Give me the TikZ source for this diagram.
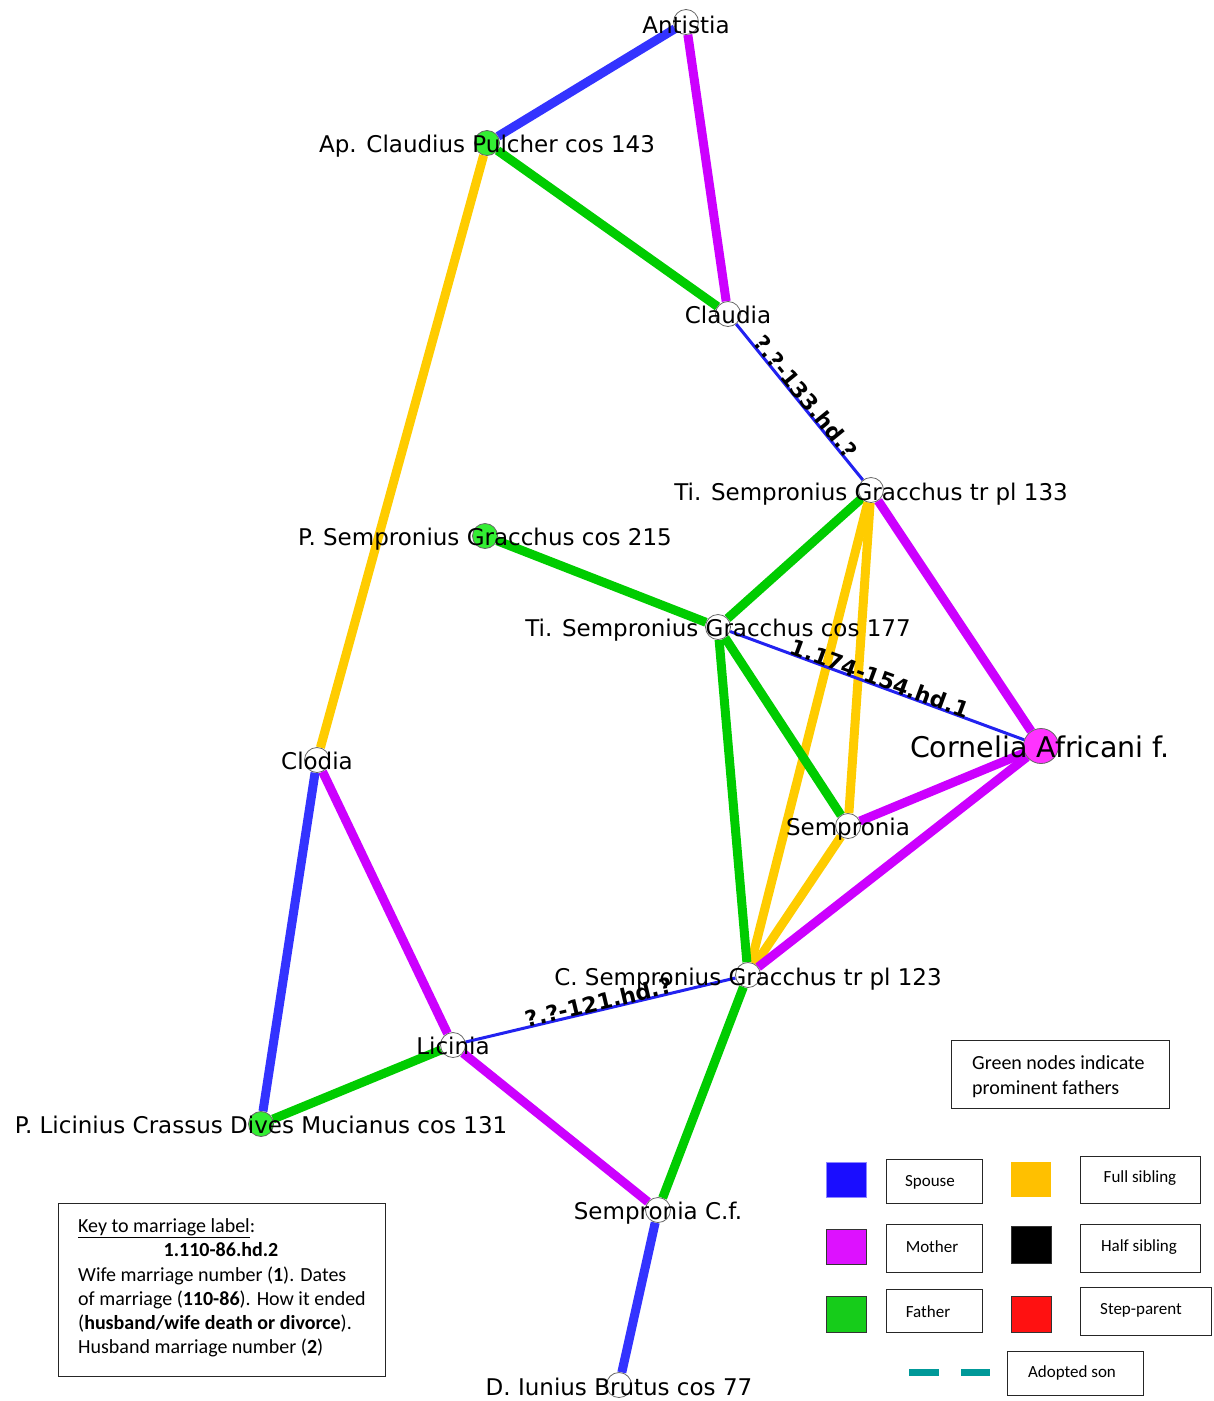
\documentclass[tikz,border=0pt]{standalone}
\usepackage{fontspec}
\setmainfont{DejaVu Sans}
\newfontfamily\keyfont{Carlito}
\pgfdeclarelayer{edges}
\pgfsetlayers{edges,main}

\definecolor{spouseblue}{RGB}{51,51,255}
\definecolor{marblue}{RGB}{34,34,240}
\definecolor{motherc}{RGB}{204,0,255}
\definecolor{fatherc}{RGB}{0,204,0}
\definecolor{siblingc}{RGB}{255,204,0}
\definecolor{promgreen}{RGB}{51,238,51}
\definecolor{corpink}{RGB}{255,51,255}
\definecolor{kspouse}{RGB}{26,13,255}
\definecolor{kmother}{RGB}{221,17,255}
\definecolor{kfather}{RGB}{22,204,26}
\definecolor{ksibling}{RGB}{255,192,0}
\definecolor{kstep}{RGB}{255,17,17}
\definecolor{kadopt}{RGB}{0,153,153}

\tikzset{
  person/.style={circle, draw=black!60, fill=white, minimum size=25pt, inner sep=0pt, line width=0.8pt},
  prominent/.style={person, fill=promgreen},
  matriarch/.style={person, fill=corpink, minimum size=35pt},
  namelbl/.style={anchor=base, inner sep=0pt, text=black, font=\fontsize{23}{27}\selectfont},
  biglbl/.style={namelbl, font=\fontsize{28.5}{32}\selectfont},
  rel/.style={line width=9pt},
  spouse/.style={rel, draw=spouseblue},
  mother/.style={rel, draw=motherc},
  father/.style={rel, draw=fatherc},
  fullsib/.style={rel, draw=siblingc},
  marriage/.style={line width=3pt, draw=marblue},
  mlabel/.style={midway, sloped, above=-2pt, inner sep=0pt, font=\bfseries\fontsize{22}{26}\selectfont},
  keybox/.style={draw=black!85, line width=1pt},
  keytxt/.style={anchor=base west, inner sep=0pt, font=\keyfont\fontsize{20}{24}\selectfont},
  legtxt/.style={anchor=center, inner sep=0pt, font=\keyfont\fontsize{17}{20}\selectfont},
  swatch/.style={draw=black!80, line width=1pt},
}

\begin{document}
\begin{tikzpicture}[x=1pt,y=-1pt]
\useasboundingbox (0,0) rectangle (1214,1401);

% people
\node[person]    (ant)  at (686,22)   {};
\node[prominent] (apc)  at (487,143)  {};
\node[person]    (cla)  at (728,314)  {};
\node[person]    (t133) at (871,490)  {};
\node[prominent] (p215) at (485,536)  {};
\node[person]    (t177) at (718,627)  {};
\node[matriarch] (cor)  at (1041,746) {};
\node[person]    (clo)  at (317,760)  {};
\node[person]    (sem)  at (848,826)  {};
\node[person]    (c123) at (748,975)  {};
\node[person]    (lic)  at (453,1045) {};
\node[prominent] (plc)  at (261,1124) {};
\node[person]    (scf)  at (658,1210) {};
\node[person]    (bru)  at (619,1385) {};

% names
\node[namelbl] (ant-l)  at (686,33)   {Antistia};
\node[namelbl] (apc-l)  at (487,152)  {Ap. Claudius Pulcher cos 143};
\node[namelbl] (cla-l)  at (728,323)  {Claudia};
\node[namelbl] (t133-l) at (871,500)  {Ti. Sempronius Gracchus tr pl 133};
\node[namelbl] (p215-l) at (485,545)  {P. Sempronius Gracchus cos 215};
\node[namelbl] (t177-l) at (718,636)  {Ti. Sempronius Gracchus cos 177};
\node[biglbl]  (cor-l)  at (1040,757) {Cornelia Africani f.};
\node[namelbl] (clo-l)  at (317,769)  {Clodia};
\node[namelbl] (sem-l)  at (848,835)  {Sempronia};
\node[namelbl] (c123-l) at (748,985)  {C. Sempronius Gracchus tr pl 123};
\node[namelbl] (lic-l)  at (453,1054) {Licinia};
\node[namelbl] (plc-l)  at (261,1133) {P. Licinius Crassus Dives Mucianus cos 131};
\node[namelbl] (scf-l)  at (658,1219) {Sempronia C.f.};
\node[namelbl] (bru-l)  at (619,1395) {D. Iunius Brutus cos 77};

% relations
\begin{pgfonlayer}{edges}
\draw[spouse]  (ant) -- (apc);
\draw[mother]  (ant) -- (cla);
\draw[father]  (apc) -- (cla);
\draw[fullsib] (apc) -- (clo);
\draw[father]  (t133) -- (t177);
\draw[fullsib] (t133) -- (sem);
\draw[fullsib] (t133) -- (c123);
\draw[mother]  (cor) -- (t133);
\draw[father]  (p215) -- (t177);
\draw[father]  (t177) -- (sem);
\draw[father]  (t177) -- (c123);
\draw[mother]  (cor) -- (sem);
\draw[fullsib] (sem) -- (c123);
\draw[mother]  (cor) -- (c123);
\draw[mother]  (clo) -- (lic);
\draw[spouse]  (clo) -- (plc);
\draw[father]  (plc) -- (lic);
\draw[mother]  (lic) -- (scf);
\draw[father]  (c123) -- (scf);
\draw[spouse]  (scf) -- (bru);
\draw[marriage] (cla) -- (t133)  node[mlabel] (m1) {?.?-133.hd.?};
\draw[marriage] (t177) -- (cor)  node[mlabel] (m2) {1.174-154.hd.1};
\draw[marriage] (lic) -- (c123)  node[mlabel] (m3) {?.?-121.hd.?};
\end{pgfonlayer}

% note on green nodes
\draw[keybox] (951,1040) rectangle (1169,1108);
\node[keytxt] (g1) at (972,1069) {Green nodes indicate};
\node[keytxt] (g2) at (972,1094) {prominent fathers};

% key to marriage labels
\draw[keybox] (58,1203) rectangle (385,1376);
\node[keytxt] (k1) at (78,1232) {\underline{Key to marriage label}:};
\node[keytxt, anchor=base] (k2) at (221,1256) {\bfseries 1.110-86.hd.2};
\node[keytxt] (k3) at (78,1281) {Wife marriage number (\textbf{1}). Dates};
\node[keytxt] (k4) at (78,1305) {of marriage (\textbf{110-86}). How it ended};
\node[keytxt] (k5) at (78,1329) {(\textbf{husband/wife death or divorce}).};
\node[keytxt] (k6) at (78,1353) {Husband marriage number (\textbf{2})};

% colour legend
\fill[kspouse, draw=kspouse!50] (826,1162) rectangle (866,1197);
\draw[keybox] (886,1159) rectangle (982,1203);
\node[legtxt] (l1) at (930,1182) {Spouse};
\draw[swatch, fill=kmother] (826,1229) rectangle (866,1264);
\draw[keybox] (886,1224) rectangle (982,1272);
\node[legtxt] (l2) at (932,1247) {Mother};
\draw[swatch, fill=kfather] (826,1296) rectangle (866,1332);
\draw[keybox] (886,1289) rectangle (982,1332);
\node[legtxt] (l3) at (928,1312) {Father};
\fill[ksibling] (1011,1162) rectangle (1051,1197);
\draw[keybox] (1080,1156) rectangle (1200,1203);
\node[legtxt] (l4) at (1140,1178) {Full sibling};
\draw[swatch, fill=black] (1011,1226) rectangle (1051,1263);
\draw[keybox] (1080,1224) rectangle (1200,1272);
\node[legtxt] (l5) at (1139,1247) {Half sibling};
\draw[swatch, fill=kstep] (1011,1296) rectangle (1051,1332);
\draw[keybox] (1080,1287) rectangle (1211,1335);
\node[legtxt] (l6) at (1141,1310) {Step-parent};
\draw[kadopt, line width=7pt] (909,1372) -- (939,1372) (961,1372) -- (990,1372);
\draw[keybox] (1007,1351) rectangle (1143,1395);
\node[legtxt] (l7) at (1072,1373) {Adopted son};
\end{tikzpicture}
\end{document}
